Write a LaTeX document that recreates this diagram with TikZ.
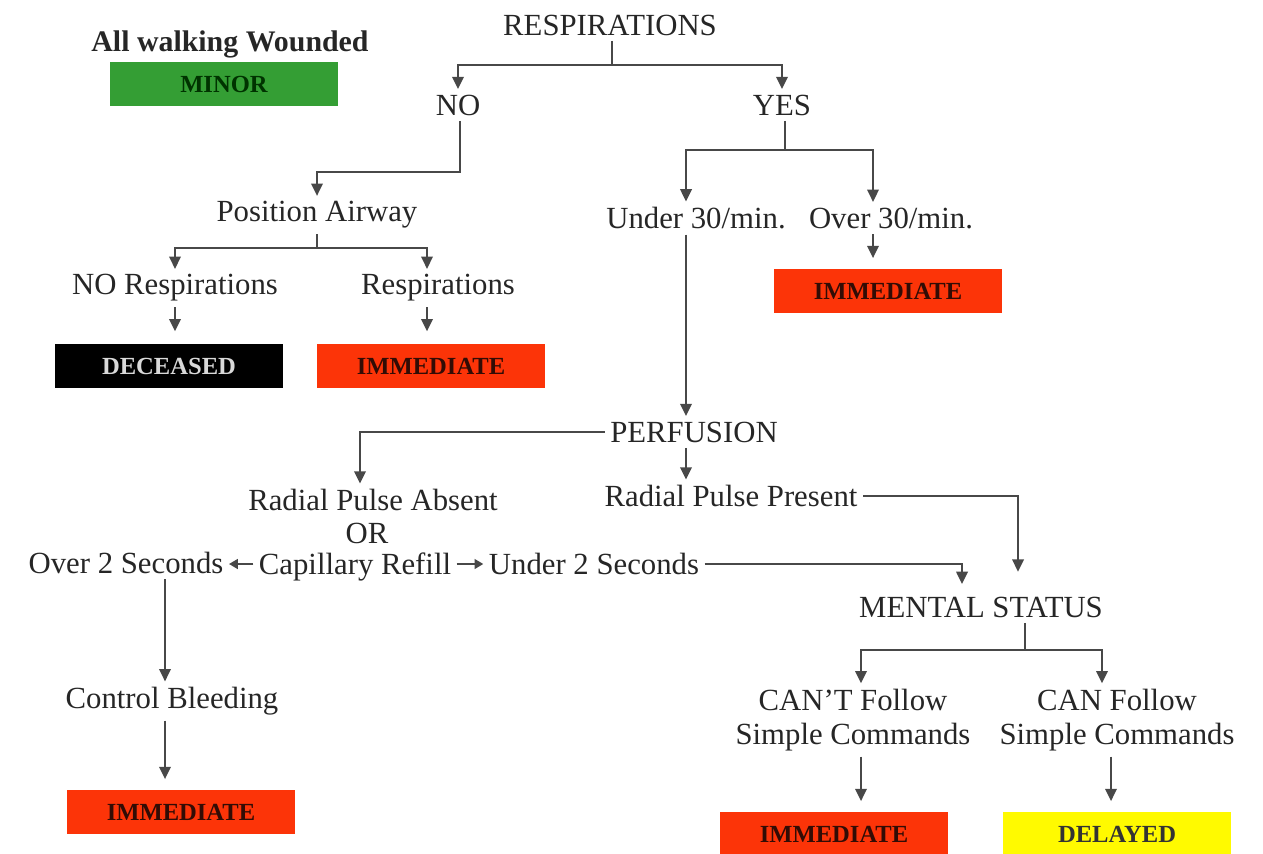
\documentclass[tikz,border=0pt]{standalone}
\usepackage{fontspec}
\setmainfont{Liberation Serif}
\usetikzlibrary{arrows.meta}

\definecolor{minorGreen}{RGB}{52,158,52}
\definecolor{immRed}{RGB}{252,52,8}
\definecolor{delYellow}{RGB}{255,250,0}
\definecolor{lineGray}{RGB}{72,72,72}
\definecolor{tagInk}{RGB}{50,12,5}

\tikzset{
  txt/.style={font=\fontsize{17.5}{19.5}\selectfont, text=black!85, inner sep=3pt},
  tag/.style={minimum width=4.56cm, minimum height=0.88cm, inner sep=0pt,
    font=\bfseries\fontsize{14}{16}\selectfont},
  conn/.style={draw=lineGray, line width=1.2pt},
  arr/.style={conn, -{Triangle[length=7pt,width=6.5pt]}},
  arrS/.style={conn, -{Triangle[length=5pt,width=5.5pt]}},
}

\begin{document}
\begin{tikzpicture}[x=0.02cm, y=-0.02cm]
  \useasboundingbox (0,0) rectangle (1263,853);
  \clip (0,0) rectangle (1263,853);

  % --- TOP: RESPIRATIONS ---
  \node[txt, font=\bfseries\fontsize{17}{19}\selectfont] (walkLbl) at (230,44) {All walking Wounded};
  \node[tag, fill=minorGreen, text=black!80!green] (minor) at (224,84) {MINOR};
  \node[txt] (resp) at (610,25) {RESPIRATIONS};
  \node[txt] (no) at (458,105) {NO};
  \node[txt] (yes) at (782,105) {YES};

  \coordinate (rJ) at (612,65);
  \draw[conn] (resp.south -| rJ) -- (rJ);
  \draw[arr] (rJ) -| (no.north);
  \draw[arr] (rJ) -| (yes.north);

  % --- NO: position airway ---
  \node[txt] (posAir) at (317,215) {Position Airway};
  \node[txt] (noResp) at (175,288) {NO Respirations};
  \node[txt] (respYes) at (438,288) {Respirations};
  \node[tag, fill=black, text=white!85!black] (dec) at (169,366) {DECEASED};
  \node[tag, fill=immRed, text=tagInk] (imm1) at (431,366) {IMMEDIATE};

  \coordinate (nJ) at (460,172);
  \draw[arr] (no.south -| nJ) -- (nJ) -| (posAir.north);
  \coordinate (pJ) at (317,248);
  \coordinate (lC) at (175,0); % column of the left arrow
  \coordinate (rC) at (427,0); % column of the right arrow
  \draw[conn] (posAir.south) -- (pJ);
  \draw[arr] (pJ) -| (noResp.north);
  \draw[arr] (pJ) -| (respYes.north -| rC);
  \draw[arr, shorten >=7pt] (noResp.south -| lC) -- (dec.north -| lC);
  \draw[arr, shorten >=7pt] (respYes.south -| rC) -- (imm1.north -| rC);

  % --- YES: rate ---
  \node[txt] (under) at (696,218) {Under 30/min.};
  \node[txt] (over) at (891,218) {Over 30/min.};
  \node[tag, fill=immRed, text=tagInk] (imm2) at (888,291) {IMMEDIATE};

  \coordinate (yJ) at (785,150);
  \coordinate (uC) at (686,0);
  \coordinate (oC) at (873,0);
  \draw[conn] (yes.south -| yJ) -- (yJ);
  \draw[arr] (yJ) -| (under.north -| uC);
  \draw[arr] (yJ) -| (over.north -| oC);
  \draw[arr, shorten >=6pt] (over.south -| oC) -- (imm2.north -| oC);

  % --- PERFUSION ---
  \node[txt] (perf) at (694,432) {PERFUSION};
  \node[txt] (rpa) at (373,500) {Radial Pulse Absent};
  \node[txt] (orLbl) at (367,533) {OR};
  \node[txt] (cap) at (355,567) {Capillary Refill};
  \node[txt] (o2) at (126,563) {Over 2 Seconds};
  \node[txt] (u2) at (594,564) {Under 2 Seconds};
  \node[txt] (rpp) at (731,496) {Radial Pulse Present};

  \draw[arr] (under.south -| uC) -- (perf.north -| uC);
  \coordinate (aC) at (360,0);
  \draw[arr] (perf.west) -| (rpa.north -| aC);
  \draw[arr] (perf.south -| uC) -- (rpp.north -| uC);
  \coordinate (capY) at (0,564); % arrow row
  \draw[arrS] (cap.west |- capY) -- (o2.east |- capY);
  \draw[arrS] (cap.east |- capY) -- (u2.west |- capY);

  % --- MENTAL STATUS ---
  \node[txt] (ms) at (981,607) {MENTAL STATUS};
  \node[txt, align=center] (cant) at (853,720) {CAN'T Follow\\Simple Commands};
  \node[txt, align=center] (can) at (1117,720) {CAN Follow\\Simple Commands};
  \node[tag, fill=immRed, text=tagInk] (imm4) at (834,834) {IMMEDIATE};
  \node[tag, fill=delYellow, text=black!80] (del) at (1117,834) {DELAYED};

  \coordinate (msL) at (962,0);
  \coordinate (msR) at (1018,0);
  \draw[arr, shorten >=4pt] (u2.east) -| (ms.north -| msL);
  \draw[arr, shorten >=11pt] (rpp.east) -| (ms.north -| msR);

  \coordinate (mJ) at (1025,650);
  \coordinate (ctC) at (861,0);
  \coordinate (cnC) at (1102,0);
  \coordinate (cnD) at (1111,0);
  \draw[conn] (ms.south -| mJ) -- (mJ);
  \draw[arr] (mJ) -| (cant.north -| ctC);
  \draw[arr] (mJ) -| (can.north -| cnC);
  \draw[arr, shorten >=6pt] (cant.south -| ctC) -- (imm4.north -| ctC);
  \draw[arr, shorten >=6pt] (can.south -| cnD) -- (del.north -| cnD);

  % --- OVER 2 SECONDS: bleeding ---
  \node[txt] (cb) at (172,701) {Control Bleeding};
  \node[tag, fill=immRed, text=tagInk] (imm3) at (181,812) {IMMEDIATE};

  \coordinate (bC) at (165,0);
  \draw[arr] (o2.south -| bC) -- (cb.north -| bC);
  \draw[arr, shorten >=6pt] (cb.south -| bC) -- (imm3.north -| bC);

\end{tikzpicture}
\end{document}
